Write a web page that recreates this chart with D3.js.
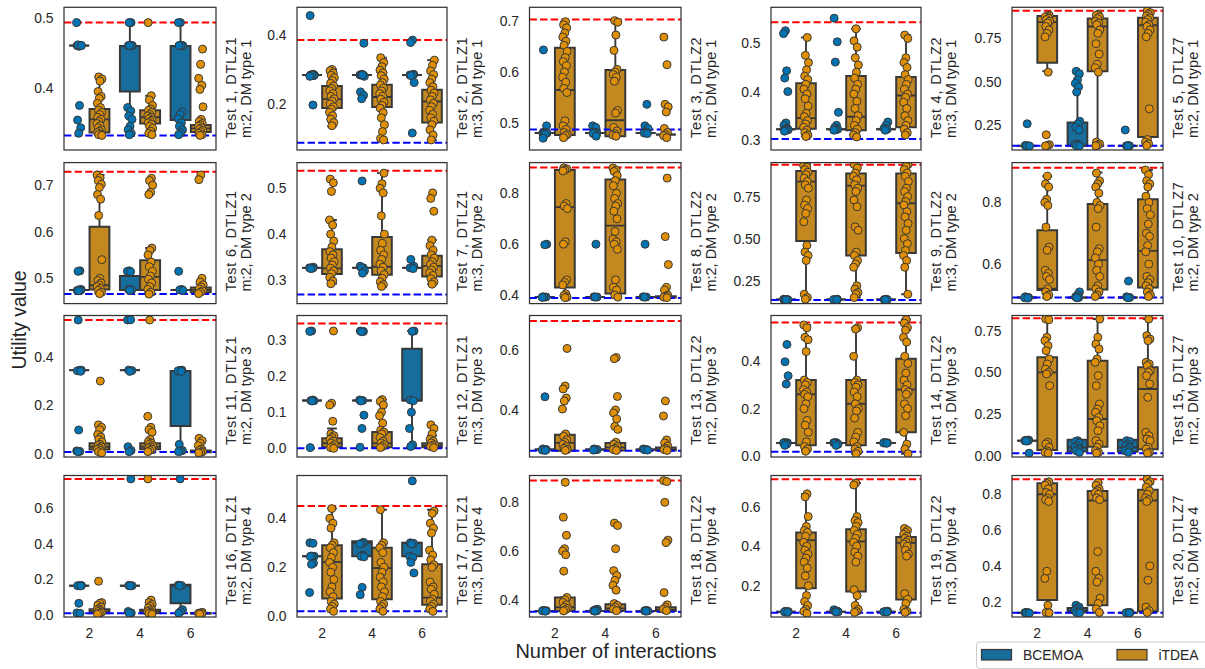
<!DOCTYPE html>
<html><head><meta charset="utf-8">
<script src="https://cdn.jsdelivr.net/npm/d3@7"></script>
<style>
body{margin:0;background:#fff}
svg text{font-family:"Liberation Sans",Arial,sans-serif;fill:#262626}
</style>
</head><body><svg id="c" width="1205" height="669"></svg>
<script>
// ---------------- DATA ----------------
const interactions = ["2", "4", "6"];
const algorithms = ["BCEMOA", "iTDEA"];
const problems = ["DTLZ1", "DTLZ1", "DTLZ2", "DTLZ2", "DTLZ7"];
const objectives = [2, 3, 2, 3, 2];
const dmTypes = [1, 2, 3, 4];

const yDomains = [
  [0.311, 0.516], [0.0667, 0.480], [0.448, 0.726], [0.279, 0.5745], [0.104, 0.931],
  [0.4456, 0.7486], [0.2487, 0.556], [0.3665, 0.921], [0.114, 0.952], [0.472, 0.929],
  [-0.012, 0.5695], [-0.024, 0.368], [0.243, 0.715], [-0.004, 0.592], [-0.008, 0.841],
  [-0.011, 0.784], [-0.003, 0.575], [0.33, 0.91], [0.0415, 0.758], [0.1145, 0.905]
];
const yTickLabels = [
  ["0.4", "0.5"], ["0.2", "0.4"], ["0.5", "0.6", "0.7"], ["0.3", "0.4", "0.5"], ["0.25", "0.50", "0.75"],
  ["0.5", "0.6", "0.7"], ["0.3", "0.4", "0.5"], ["0.4", "0.6", "0.8"], ["0.25", "0.50", "0.75"], ["0.6", "0.8"],
  ["0.0", "0.2", "0.4"], ["0.0", "0.1", "0.2", "0.3"], ["0.4", "0.6"], ["0.0", "0.2", "0.4"], ["0.00", "0.25", "0.50", "0.75"],
  ["0.0", "0.2", "0.4", "0.6"], ["0.0", "0.2", "0.4"], ["0.4", "0.6", "0.8"], ["0.2", "0.4", "0.6"], ["0.2", "0.4", "0.6", "0.8"]
];
// red dashed (upper reference) and blue dashed (lower reference)
const upperRef = [0.494, 0.3855, 0.702, 0.5435, 0.911, 0.729, 0.538, 0.902, 0.939, 0.912,
                  0.551, 0.346, 0.697, 0.563, 0.824, 0.765, 0.45, 0.889, 0.739, 0.884];
const lowerRef = [0.332, 0.088, 0.488, 0.302, 0.128, 0.466, 0.2688, 0.389, 0.135, 0.492,
                  0.009, 0.0, 0.264, 0.018, 0.0144, 0.0095, 0.02, 0.352, 0.063, 0.1385];

// box stats per group [whiskerLow, q1, median, q3, whiskerHigh]
// group order: BCEMOA@2, iTDEA@2, BCEMOA@4, iTDEA@4, BCEMOA@6, iTDEA@6
const box01 = [[0.461,0.461,0.461,0.461,0.461],[0.333,0.336,0.355,0.370,0.416],[0.332,0.395,0.4604,0.4604,0.494],[0.333,0.349,0.358,0.368,0.389],[0.332,0.354,0.4604,0.4604,0.494],[0.332,0.337,0.342,0.347,0.355]];
const pts01 = [[0.494,0.461,0.461,0.461,0.460,0.461,0.461,0.462,0.461,0.375,0.354,0.343,0.335],
  [0.416,0.413,0.410,0.395,0.388,0.385,0.378,0.372,0.368,0.365,0.362,0.358,0.355,0.352,0.349,0.346,0.343,0.340,0.338,0.336,0.334,0.333,0.332],
  [0.494,0.494,0.461,0.461,0.461,0.461,0.461,0.372,0.367,0.360,0.355,0.345,0.340,0.335,0.333],
  [0.494,0.389,0.383,0.375,0.370,0.368,0.365,0.362,0.360,0.358,0.356,0.354,0.352,0.350,0.348,0.345,0.342,0.338,0.335,0.333],
  [0.494,0.494,0.461,0.461,0.461,0.461,0.461,0.366,0.362,0.356,0.350,0.345,0.340,0.336,0.333],
  [0.456,0.434,0.414,0.404,0.398,0.373,0.355,0.352,0.349,0.347,0.345,0.343,0.341,0.339,0.337,0.335,0.333,0.332]];
const box02 = [[0.284,0.284,0.284,0.284,0.284],[0.135,0.188,0.214,0.252,0.301],[0.284,0.284,0.284,0.284,0.284],[0.095,0.191,0.220,0.256,0.334],[0.284,0.284,0.284,0.284,0.284],[0.095,0.146,0.207,0.241,0.327]];
const pts02 = [[0.456,0.286,0.284,0.284,0.284,0.284,0.282,0.284,0.280,0.197],
  [0.300,0.296,0.290,0.283,0.276,0.268,0.260,0.252,0.245,0.238,0.230,0.222,0.215,0.208,0.200,0.192,0.185,0.176,0.166,0.156,0.146,0.137],
  [0.376,0.286,0.284,0.284,0.284,0.280,0.284,0.235,0.225,0.215],
  [0.334,0.320,0.308,0.298,0.290,0.282,0.272,0.262,0.255,0.246,0.238,0.230,0.222,0.214,0.205,0.196,0.188,0.175,0.160,0.140,0.120,0.100,0.096],
  [0.385,0.378,0.286,0.284,0.284,0.284,0.282,0.262,0.116],
  [0.327,0.312,0.296,0.285,0.272,0.262,0.250,0.240,0.232,0.222,0.212,0.202,0.192,0.182,0.170,0.160,0.150,0.140,0.125,0.110,0.096]];
const box03 = [[0.481,0.481,0.481,0.481,0.481],[0.475,0.477,0.565,0.647,0.698],[0.481,0.481,0.481,0.481,0.481],[0.475,0.475,0.506,0.604,0.700],[0.481,0.481,0.481,0.481,0.481],[0.478,0.478,0.478,0.478,0.478]];
const pts03 = [[0.643,0.495,0.483,0.481,0.481,0.480,0.481,0.479,0.471],
  [0.698,0.692,0.686,0.676,0.668,0.660,0.652,0.640,0.628,0.620,0.612,0.600,0.590,0.580,0.568,0.560,0.505,0.495,0.488,0.482,0.478,0.476,0.472],
  [0.495,0.492,0.483,0.481,0.481,0.480,0.475],
  [0.700,0.697,0.672,0.642,0.605,0.600,0.595,0.590,0.582,0.525,0.520,0.492,0.485,0.480,0.477,0.475],
  [0.537,0.495,0.490,0.483,0.481,0.480],
  [0.668,0.614,0.537,0.532,0.522,0.490,0.482,0.478,0.476,0.472]];
const box04 = [[0.322,0.322,0.322,0.322,0.322],[0.307,0.323,0.345,0.417,0.512],[0.322,0.322,0.322,0.322,0.322],[0.305,0.320,0.348,0.432,0.530],[0.322,0.322,0.322,0.322,0.322],[0.310,0.326,0.392,0.430,0.517]];
const pts04 = [[0.526,0.520,0.443,0.428,0.400,0.335,0.330,0.324,0.322,0.321,0.320,0.318],
  [0.512,0.475,0.460,0.445,0.432,0.425,0.415,0.405,0.395,0.385,0.370,0.355,0.348,0.340,0.333,0.326,0.320,0.315,0.310,0.307],
  [0.552,0.503,0.461,0.357,0.330,0.325,0.322,0.321,0.320],
  [0.530,0.505,0.492,0.470,0.455,0.440,0.428,0.415,0.405,0.395,0.380,0.365,0.350,0.340,0.330,0.322,0.315,0.310,0.306],
  [0.337,0.330,0.324,0.322,0.320],
  [0.517,0.510,0.470,0.460,0.450,0.435,0.425,0.415,0.405,0.395,0.388,0.378,0.365,0.350,0.340,0.330,0.322,0.315,0.310]];
const box05 = [[0.128,0.128,0.128,0.128,0.128],[0.561,0.61,0.845,0.88,0.885],[0.128,0.128,0.128,0.263,0.564],[0.128,0.56,0.82,0.866,0.89],[0.128,0.128,0.128,0.128,0.128],[0.128,0.18,0.827,0.87,0.91]];
const pts05 = [[0.256,0.130,0.128,0.128,0.127],
  [0.885,0.880,0.875,0.868,0.860,0.850,0.840,0.820,0.800,0.780,0.760,0.555,0.192,0.135,0.130,0.128],
  [0.560,0.545,0.510,0.490,0.470,0.440,0.270,0.255,0.235,0.220,0.140,0.135,0.130,0.128,0.128],
  [0.890,0.885,0.875,0.865,0.850,0.840,0.830,0.800,0.780,0.720,0.660,0.600,0.580,0.555,0.150,0.140,0.132,0.128],
  [0.220,0.130,0.128,0.128,0.127],
  [0.910,0.900,0.890,0.880,0.870,0.860,0.845,0.830,0.820,0.800,0.780,0.760,0.343,0.165,0.150,0.140,0.130]];
const box06 = [[0.4746,0.4746,0.4746,0.4746,0.4746],[0.467,0.476,0.485,0.611,0.722],[0.4746,0.4746,0.4746,0.5047,0.515],[0.465,0.4746,0.503,0.539,0.565],[0.4746,0.4746,0.4746,0.4746,0.4746],[0.466,0.470,0.475,0.480,0.488]];
const pts06 = [[0.516,0.515,0.476,0.475,0.474,0.474,0.473],
  [0.722,0.716,0.710,0.702,0.695,0.680,0.670,0.635,0.540,0.500,0.495,0.490,0.486,0.482,0.478,0.474,0.470,0.467],
  [0.516,0.515,0.514,0.476,0.475,0.474],
  [0.715,0.710,0.700,0.685,0.680,0.565,0.560,0.550,0.535,0.525,0.515,0.505,0.498,0.490,0.482,0.476,0.470,0.466],
  [0.515,0.476,0.475,0.474],
  [0.722,0.712,0.500,0.492,0.486,0.481,0.477,0.473,0.470,0.467]];
const box07 = [[0.3266,0.3266,0.3266,0.3266,0.3266],[0.292,0.313,0.3255,0.367,0.431],[0.3266,0.3266,0.3266,0.3266,0.3266],[0.286,0.3115,0.329,0.394,0.533],[0.3266,0.3266,0.3266,0.3266,0.3266],[0.291,0.308,0.331,0.353,0.387]];
const pts07 = [[0.328,0.3266,0.3266,0.326,0.325],
  [0.520,0.512,0.493,0.431,0.420,0.400,0.385,0.372,0.362,0.355,0.348,0.340,0.333,0.326,0.320,0.314,0.306,0.298,0.292],
  [0.516,0.330,0.3266,0.3266,0.320,0.315],
  [0.533,0.510,0.500,0.490,0.440,0.400,0.380,0.365,0.355,0.345,0.335,0.328,0.320,0.312,0.304,0.296,0.290,0.286],
  [0.345,0.330,0.3266,0.3266,0.325],
  [0.490,0.478,0.450,0.387,0.375,0.365,0.355,0.348,0.340,0.334,0.328,0.322,0.316,0.310,0.303,0.296,0.291]];
const box08 = [[0.3925,0.3925,0.3925,0.3925,0.3925],[0.39,0.43,0.746,0.892,0.90],[0.3925,0.3925,0.3925,0.3925,0.3925],[0.39,0.406,0.673,0.855,0.90],[0.3925,0.3925,0.3925,0.3925,0.3925],[0.39,0.39,0.392,0.395,0.40]];
const pts08 = [[0.600,0.598,0.393,0.3925,0.392,0.391],
  [0.900,0.896,0.892,0.888,0.760,0.750,0.740,0.610,0.600,0.460,0.450,0.440,0.405,0.398,0.392,0.390],
  [0.600,0.393,0.3925,0.392],
  [0.900,0.892,0.886,0.870,0.850,0.830,0.800,0.780,0.760,0.750,0.730,0.700,0.650,0.620,0.610,0.600,0.580,0.460,0.430,0.420,0.400,0.392],
  [0.600,0.393,0.3925,0.392],
  [0.860,0.630,0.520,0.430,0.420,0.400,0.395,0.392,0.390]];
const box09 = [[0.138,0.138,0.138,0.138,0.138],[0.14,0.486,0.839,0.902,0.945],[0.138,0.138,0.138,0.138,0.138],[0.15,0.40,0.815,0.887,0.94],[0.138,0.138,0.138,0.138,0.138],[0.17,0.415,0.71,0.887,0.94]];
const pts09 = [[0.140,0.138,0.138,0.137,0.136],
  [0.945,0.935,0.925,0.910,0.895,0.880,0.860,0.840,0.820,0.800,0.730,0.700,0.680,0.650,0.600,0.460,0.420,0.400,0.370,0.170,0.150,0.140],
  [0.140,0.138,0.138,0.137],
  [0.940,0.920,0.890,0.870,0.850,0.820,0.800,0.780,0.730,0.690,0.570,0.550,0.420,0.400,0.370,0.350,0.330,0.220,0.200,0.180,0.170,0.150],
  [0.140,0.138,0.138,0.137],
  [0.940,0.930,0.910,0.890,0.870,0.840,0.800,0.780,0.750,0.720,0.700,0.660,0.630,0.590,0.550,0.500,0.470,0.430,0.400,0.370,0.330,0.170]];
const box10 = [[0.492,0.492,0.492,0.492,0.492],[0.49,0.516,0.52,0.71,0.885],[0.492,0.492,0.492,0.492,0.492],[0.49,0.518,0.613,0.795,0.897],[0.492,0.492,0.492,0.492,0.492],[0.49,0.524,0.643,0.81,0.905]];
const pts10 = [[0.494,0.492,0.492,0.491,0.490],
  [0.885,0.860,0.850,0.810,0.800,0.790,0.720,0.655,0.645,0.580,0.570,0.560,0.550,0.520,0.510,0.500,0.495],
  [0.510,0.500,0.494,0.492,0.491],
  [0.895,0.870,0.860,0.850,0.830,0.800,0.790,0.780,0.720,0.650,0.640,0.620,0.600,0.580,0.560,0.530,0.520,0.510,0.500,0.495],
  [0.545,0.494,0.492,0.491],
  [0.905,0.890,0.870,0.860,0.850,0.820,0.800,0.780,0.760,0.730,0.700,0.690,0.660,0.640,0.600,0.560,0.550,0.540,0.530,0.520,0.510,0.500,0.495]];
const box11 = [[0.345,0.345,0.345,0.345,0.345],[0.005,0.019,0.03,0.044,0.12],[0.345,0.345,0.345,0.345,0.345],[0.005,0.02,0.03,0.045,0.10],[0.01,0.115,0.341,0.341,0.345],[0.005,0.008,0.01,0.015,0.025]];
const pts11 = [[0.551,0.345,0.344,0.342,0.340,0.099,0.013,0.011,0.010],
  [0.300,0.120,0.110,0.100,0.080,0.070,0.060,0.050,0.040,0.035,0.030,0.025,0.020,0.015,0.010,0.005],
  [0.551,0.552,0.345,0.343,0.340,0.030,0.015,0.010],
  [0.551,0.155,0.110,0.100,0.090,0.060,0.050,0.045,0.040,0.035,0.030,0.025,0.020,0.015,0.010],
  [0.345,0.344,0.342,0.340,0.040,0.015,0.012,0.010],
  [0.065,0.055,0.045,0.035,0.020,0.015,0.010,0.008,0.005]];
const box12 = [[0.1325,0.1325,0.1325,0.1325,0.1325],[0.0,0.003,0.014,0.028,0.055],[0.1325,0.1325,0.1325,0.1325,0.1325],[0.0,0.003,0.014,0.045,0.135],[0.005,0.1325,0.1325,0.276,0.325],[0.0,0.003,0.008,0.014,0.035]];
const pts12 = [[0.325,0.324,0.134,0.1325,0.132,0.131,0.002],
  [0.325,0.125,0.120,0.075,0.040,0.035,0.030,0.025,0.020,0.015,0.010,0.005,0.002,0.000],
  [0.325,0.324,0.323,0.134,0.1325,0.131,0.092,0.055,0.003],
  [0.135,0.130,0.120,0.100,0.090,0.070,0.050,0.045,0.040,0.030,0.020,0.015,0.010,0.005,0.002],
  [0.325,0.324,0.134,0.132,0.100,0.055,0.010,0.005],
  [0.065,0.055,0.040,0.025,0.020,0.015,0.010,0.008,0.005,0.002]];
const box13 = [[0.268,0.268,0.268,0.268,0.268],[0.264,0.264,0.29,0.317,0.32],[0.268,0.268,0.268,0.268,0.268],[0.264,0.265,0.275,0.29,0.295],[0.268,0.268,0.268,0.268,0.268],[0.264,0.265,0.268,0.275,0.28]];
const pts13 = [[0.444,0.270,0.268,0.267,0.266,0.265],
  [0.605,0.480,0.470,0.440,0.430,0.403,0.320,0.312,0.300,0.292,0.285,0.278,0.272,0.268,0.265],
  [0.270,0.268,0.267,0.266],
  [0.575,0.571,0.445,0.400,0.390,0.370,0.345,0.335,0.292,0.285,0.278,0.272,0.268,0.265],
  [0.270,0.268,0.267,0.266],
  [0.430,0.380,0.300,0.290,0.280,0.272,0.268,0.265]];
const box14 = [[0.055,0.055,0.055,0.055,0.055],[0.02,0.046,0.26,0.32,0.552],[0.055,0.055,0.055,0.055,0.055],[0.01,0.046,0.22,0.32,0.54],[0.055,0.055,0.055,0.055,0.055],[0.01,0.10,0.28,0.41,0.575]];
const pts14 = [[0.470,0.397,0.338,0.303,0.057,0.056,0.055,0.055,0.050,0.045],
  [0.552,0.540,0.500,0.490,0.440,0.320,0.310,0.300,0.280,0.270,0.260,0.250,0.220,0.200,0.150,0.130,0.100,0.060,0.040,0.030,0.020],
  [0.057,0.056,0.055,0.055,0.050,0.045],
  [0.540,0.535,0.420,0.320,0.310,0.300,0.290,0.270,0.250,0.220,0.200,0.190,0.160,0.100,0.080,0.060,0.040,0.030,0.020,0.010],
  [0.057,0.056,0.055,0.055,0.054],
  [0.575,0.560,0.540,0.530,0.500,0.480,0.420,0.390,0.350,0.320,0.300,0.280,0.270,0.260,0.220,0.200,0.170,0.100,0.050,0.030,0.010]];
const box15 = [[0.09,0.09,0.09,0.09,0.09],[0.015,0.034,0.50,0.59,0.82],[0.02,0.025,0.05,0.095,0.095],[0.015,0.054,0.22,0.57,0.82],[0.02,0.024,0.05,0.095,0.095],[0.015,0.038,0.40,0.53,0.82]];
const pts15 = [[0.094,0.092,0.090,0.089,0.088,0.015],
  [0.820,0.815,0.710,0.690,0.660,0.630,0.580,0.550,0.520,0.500,0.490,0.420,0.080,0.070,0.050,0.030,0.020,0.015],
  [0.090,0.085,0.075,0.060,0.050,0.040,0.030,0.020],
  [0.820,0.710,0.670,0.640,0.580,0.560,0.480,0.420,0.310,0.280,0.260,0.230,0.210,0.180,0.150,0.090,0.070,0.050,0.030,0.020,0.015],
  [0.090,0.085,0.070,0.060,0.050,0.040,0.030,0.020],
  [0.820,0.720,0.700,0.690,0.560,0.550,0.540,0.510,0.500,0.480,0.430,0.350,0.140,0.120,0.100,0.090,0.050,0.040,0.020,0.015]];
const box16 = [[0.165,0.165,0.165,0.165,0.165],[0.005,0.01,0.02,0.032,0.07],[0.165,0.165,0.165,0.165,0.165],[0.005,0.01,0.02,0.03,0.084],[0.01,0.066,0.165,0.17,0.17],[0.005,0.008,0.01,0.012,0.015]];
const pts16 = [[0.166,0.165,0.165,0.164,0.066,0.012,0.010],
  [0.190,0.070,0.065,0.055,0.045,0.035,0.030,0.025,0.020,0.015,0.010,0.005],
  [0.765,0.166,0.165,0.164,0.020,0.012,0.010],
  [0.765,0.084,0.070,0.060,0.050,0.040,0.030,0.025,0.020,0.015,0.010,0.005],
  [0.765,0.168,0.166,0.165,0.030,0.020,0.010],
  [0.015,0.012,0.010,0.008,0.005]];
const box17 = [[0.245,0.245,0.245,0.245,0.245],[0.02,0.073,0.222,0.29,0.44],[0.245,0.245,0.30,0.306,0.306],[0.02,0.069,0.197,0.28,0.435],[0.245,0.245,0.30,0.30,0.30],[0.02,0.047,0.076,0.212,0.435]];
const pts17 = [[0.300,0.298,0.246,0.245,0.245,0.244,0.217,0.212,0.097],
  [0.440,0.400,0.380,0.360,0.300,0.290,0.280,0.260,0.240,0.220,0.200,0.180,0.150,0.120,0.100,0.080,0.060,0.050,0.040,0.030,0.020],
  [0.302,0.298,0.295,0.250,0.245,0.243,0.118,0.088],
  [0.435,0.300,0.290,0.280,0.260,0.220,0.200,0.180,0.160,0.140,0.120,0.100,0.080,0.060,0.050,0.040,0.030,0.020],
  [0.553,0.300,0.298,0.295,0.245,0.240,0.220,0.177],
  [0.430,0.420,0.380,0.360,0.340,0.270,0.250,0.230,0.210,0.200,0.140,0.120,0.110,0.090,0.070,0.060,0.050,0.040,0.030,0.020]];
const box18 = [[0.355,0.355,0.355,0.355,0.355],[0.355,0.355,0.37,0.41,0.41],[0.355,0.355,0.355,0.355,0.355],[0.355,0.355,0.365,0.382,0.385],[0.355,0.355,0.355,0.355,0.355],[0.355,0.355,0.36,0.37,0.375]];
const pts18 = [[0.357,0.356,0.355,0.355,0.354],
  [0.882,0.739,0.665,0.610,0.600,0.585,0.518,0.410,0.400,0.390,0.380,0.370,0.365,0.360,0.355],
  [0.362,0.360,0.356,0.355,0.354],
  [0.715,0.705,0.610,0.520,0.500,0.480,0.460,0.440,0.385,0.378,0.370,0.362,0.356],
  [0.357,0.356,0.355,0.354],
  [0.889,0.885,0.800,0.645,0.635,0.430,0.380,0.370,0.362,0.356]];
const box19 = [[0.068,0.068,0.068,0.068,0.068],[0.06,0.187,0.43,0.47,0.665],[0.068,0.068,0.068,0.068,0.068],[0.06,0.17,0.424,0.486,0.72],[0.068,0.068,0.068,0.068,0.068],[0.06,0.13,0.417,0.447,0.49]];
const pts19 = [[0.070,0.069,0.068,0.067,0.066],
  [0.665,0.650,0.550,0.500,0.480,0.470,0.450,0.420,0.400,0.380,0.360,0.340,0.320,0.290,0.250,0.200,0.150,0.120,0.100,0.080,0.070,0.060],
  [0.078,0.072,0.069,0.068,0.067],
  [0.720,0.710,0.550,0.530,0.520,0.500,0.480,0.460,0.440,0.420,0.400,0.370,0.350,0.320,0.180,0.150,0.100,0.080,0.070,0.065],
  [0.071,0.069,0.068,0.067],
  [0.490,0.480,0.470,0.460,0.450,0.440,0.430,0.420,0.410,0.400,0.380,0.360,0.350,0.160,0.130,0.110,0.080,0.070,0.065]];
const box20 = [[0.138,0.138,0.138,0.138,0.138],[0.138,0.21,0.80,0.862,0.87],[0.138,0.14,0.15,0.165,0.18],[0.138,0.18,0.765,0.818,0.865],[0.138,0.138,0.138,0.138,0.138],[0.138,0.147,0.765,0.826,0.885]];
const pts20 = [[0.140,0.139,0.138,0.137,0.136],
  [0.870,0.860,0.850,0.830,0.810,0.800,0.780,0.770,0.760,0.370,0.330,0.180,0.140,0.138],
  [0.180,0.170,0.160,0.150,0.145,0.140,0.138],
  [0.865,0.850,0.830,0.820,0.810,0.800,0.780,0.770,0.480,0.370,0.330,0.310,0.220,0.190,0.160,0.140],
  [0.140,0.139,0.138,0.137],
  [0.885,0.870,0.860,0.840,0.820,0.800,0.780,0.770,0.760,0.400,0.320,0.170,0.150,0.140]];

const boxes = [box01,box02,box03,box04,box05,box06,box07,box08,box09,box10,box11,box12,box13,box14,box15,box16,box17,box18,box19,box20];
const points = [pts01,pts02,pts03,pts04,pts05,pts06,pts07,pts08,pts09,pts10,pts11,pts12,pts13,pts14,pts15,pts16,pts17,pts18,pts19,pts20];

// ---------------- LAYOUT / STYLE ----------------
const colLeft = [64, 297, 529.5, 771, 1012];
const colW = [152, 150, 151.5, 150, 151];
const rowTop = [7.3, 162.6, 315.5, 475.5];
const rowH = [142.7, 141, 141.5, 141.5];
const pointColor = {BCEMOA: "#0173b2", iTDEA: "#de8f05"};
const boxColor = {BCEMOA: "#176d9c", iTDEA: "#c38820"};
const gray = "#383838";

const svg = d3.select("#c");
const defs = svg.append("defs");

for (let p = 0; p < 20; p++) {
  const r = Math.floor(p / 5), c = p % 5;
  const W = colW[c], H = rowH[r];
  const g = svg.append("g").attr("transform", `translate(${colLeft[c]},${rowTop[r]})`);
  const y = d3.scaleLinear().domain(yDomains[p]).range([H, 0]);
  const x = d3.scaleBand().domain(interactions).range([0, W]).padding(0);
  const hue = d3.scaleBand().domain(algorithms).range([-0.4 * x.bandwidth(), 0.4 * x.bandwidth()]);
  const bw = hue.bandwidth() * 0.98;

  defs.append("clipPath").attr("id", "clip" + p)
    .append("rect").attr("width", W).attr("height", H);
  const plot = g.append("g").attr("clip-path", `url(#clip${p})`);

  // y axis
  const tv = yTickLabels[p].map(Number);
  const ya = g.append("g").call(d3.axisLeft(y).tickValues(tv)
      .tickFormat((d, i) => yTickLabels[p][i]).tickSize(0).tickPadding(10.5));
  ya.select(".domain").remove();
  ya.selectAll("text").style("font-size", "13.9px").attr("fill", "#262626");

  // x axis on bottom row
  if (r === 3) {
    const xa = g.append("g").attr("transform", `translate(0,${H})`)
      .call(d3.axisBottom(x).tickSize(0).tickPadding(11));
    xa.select(".domain").remove();
    xa.selectAll("text").style("font-size", "13.9px").attr("fill", "#262626");
  }

  const groups = [];
  interactions.forEach((it, ii) => algorithms.forEach((al, ai) => groups.push({it, al, k: ii * 2 + ai})));

  // boxes
  groups.forEach(gr => {
    const b = boxes[p][gr.k];
    const cx = x(gr.it) + x.bandwidth() / 2 + hue(gr.al) + hue.bandwidth() / 2;
    const x0 = cx - bw / 2, x1 = cx + bw / 2;
    const gg = plot.append("g");
    gg.append("line").attr("x1", cx).attr("x2", cx).attr("y1", y(b[3])).attr("y2", y(b[4]))
      .attr("stroke", gray).attr("stroke-width", 1.9);
    gg.append("line").attr("x1", cx).attr("x2", cx).attr("y1", y(b[1])).attr("y2", y(b[0]))
      .attr("stroke", gray).attr("stroke-width", 1.9);
    [b[0], b[4]].forEach(v => gg.append("line").attr("x1", cx - bw / 4).attr("x2", cx + bw / 4)
      .attr("y1", y(v)).attr("y2", y(v)).attr("stroke", gray).attr("stroke-width", 1.9));
    gg.append("path")
      .attr("d", `M${x0},${y(b[3])}H${x1}V${y(b[1])}H${x0}Z`)
      .attr("fill", boxColor[gr.al]).attr("stroke", gray).attr("stroke-width", 2)
      .attr("stroke-linejoin", "miter");
    gg.append("line").attr("x1", x0).attr("x2", x1).attr("y1", y(b[2])).attr("y2", y(b[2]))
      .attr("stroke", gray).attr("stroke-width", 1.9);
  });

  // reference lines
  plot.append("line").attr("x1", 0).attr("x2", W).attr("y1", y(upperRef[p])).attr("y2", y(upperRef[p]))
    .attr("stroke", "#ff0000").attr("stroke-width", 2).attr("stroke-dasharray", "7.4,3.2");
  plot.append("line").attr("x1", 0).attr("x2", W).attr("y1", y(lowerRef[p])).attr("y2", y(lowerRef[p]))
    .attr("stroke", "#0000ff").attr("stroke-width", 2).attr("stroke-dasharray", "7.4,3.2");

  // strip points
  groups.forEach(gr => {
    const cx = x(gr.it) + x.bandwidth() / 2 + hue(gr.al) + hue.bandwidth() / 2;
    const jl = 0.05 * x.bandwidth();
    plot.append("g").selectAll("circle").data(points[p][gr.k]).join("circle")
      .attr("cx", (d, i) => cx + (((i * 0.6180339887 + gr.k * 0.37 + p * 0.13) % 1) - 0.5) * 2 * jl)
      .attr("cy", d => y(d))
      .attr("r", 4)
      .attr("fill", pointColor[gr.al])
      .attr("stroke", gray).attr("stroke-width", 1);
  });

  // frame
  g.append("rect").attr("width", W).attr("height", H).attr("fill", "none")
    .attr("stroke", "#333").attr("stroke-width", 1.25);

  // side labels (both lines start at the same bottom position)
  const line1 = `Test ${p + 1}, ${problems[c]}`;
  const line2 = `m:${objectives[c]}, DM type ${dmTypes[r]}`;
  [[line1, 19.5, "0.8px"], [line2, 35, "0px"]].forEach(([t, dx, ls]) => {
    g.append("text").attr("transform", `translate(${W + dx},${H - 12}) rotate(-90)`)
      .attr("text-anchor", "start").style("font-size", "14.5px").style("letter-spacing", ls).text(t);
  });
}

// axis titles
svg.append("text").attr("transform", "translate(26,320) rotate(-90)")
  .attr("text-anchor", "middle").style("font-size", "19.4px").text("Utility value");
svg.append("text").attr("x", 616).attr("y", 658)
  .attr("text-anchor", "middle").style("font-size", "20px").text("Number of interactions");

// legend
const lg = svg.append("g");
lg.append("rect").attr("x", 976.5).attr("y", 642).attr("width", 260).attr("height", 26.5).attr("rx", 3)
  .attr("fill", "#fff").attr("stroke", "#cccccc").attr("stroke-width", 1);
const legX = [981.5, 1117];
algorithms.forEach((al, i) => {
  lg.append("rect").attr("x", legX[i]).attr("y", 649.5).attr("width", 30).attr("height", 10.5)
    .attr("fill", boxColor[al]).attr("stroke", gray).attr("stroke-width", 1.2);
  lg.append("text").attr("x", legX[i] + 41.5).attr("y", 659.8).style("font-size", "13.9px").text(al);
});
</script>
</body></html>
